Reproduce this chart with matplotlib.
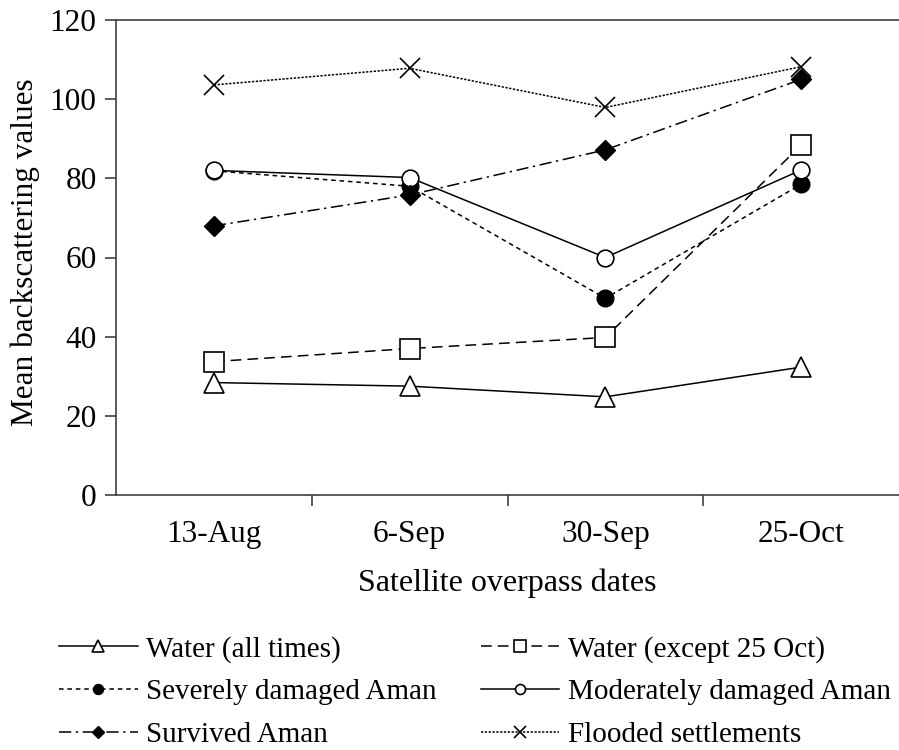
import matplotlib
matplotlib.use('Agg')
import matplotlib.pyplot as plt

plt.rcParams['font.family'] = ['Liberation Serif', 'DejaVu Serif']

# Data
dates = ['13-Aug', '6-Sep', '30-Sep', '25-Oct']
water_all = [28.4, 27.5, 24.8, 32.3]
water_except = [33.7, 37.0, 39.8, 88.4]
severely = [81.9, 78.0, 49.7, 78.5]
moderately = [82.0, 80.2, 60.0, 82.1]
survived = [68.0, 75.8, 87.2, 105.0]
flooded = [103.6, 107.8, 97.9, 108.2]
y_ticks = [0, 20, 40, 60, 80, 100, 120]

fig = plt.figure(figsize=(8.99, 7.5), dpi=100)
ax = fig.add_axes([116 / 899, 1 - 495 / 750, 1 - 116 / 899, 475 / 750])

x = range(len(dates))
ms = 12
lw = 1.1
ax.plot(x, water_all, color='black', lw=lw, ls='-', marker='^', ms=ms + 2,
        mfc='white', mec='black', mew=1.2, label='Water (all times)')
ax.plot(x, water_except, color='black', lw=lw, ls=(0, (7, 4)), marker='s',
        ms=ms + 2, mfc='white', mec='black', mew=1.2,
        label='Water (except 25 Oct)')
ax.plot(x, severely, color='black', lw=lw, ls=(0, (3, 2.5)), marker='o',
        ms=ms, mfc='black', mec='black', label='Severely damaged Aman')
ax.plot(x, moderately, color='black', lw=lw, ls='-', marker='o', ms=ms,
        mfc='white', mec='black', mew=1.2, label='Moderately damaged Aman')
ax.plot(x, survived, color='black', lw=lw, ls=(0, (8, 3, 1.5, 3)),
        marker='D', ms=ms - 2, mfc='black', mec='black', label='Survived Aman')
ax.plot(x, flooded, color='black', lw=lw, ls=(0, (1.5, 1)), marker='x',
        ms=ms + 2, mec='black', mew=1.2, label='Flooded settlements')

ax.set_xlim(-0.5, 3.5)
ax.set_ylim(0, 120)
ax.set_yticks(y_ticks)
ax.set_xticks(list(x))
ax.set_xticklabels(dates)
ax.set_xticks([0.5, 1.5, 2.5], minor=True)
ax.tick_params(axis='x', which='major', length=0, pad=18, labelsize=22.5)
ax.tick_params(axis='x', which='minor', length=8, width=1.2,
               color='#404040', direction='out')
ax.tick_params(axis='y', length=8, width=1.2, color='#404040',
               direction='out', pad=6, labelsize=22.5)
for side in ['left', 'bottom', 'top']:
    ax.spines[side].set_color('#404040')
    ax.spines[side].set_linewidth(1.2)
ax.spines['right'].set_visible(False)

ax.set_xlabel('Satellite overpass dates', fontsize=23)
ax.xaxis.set_label_coords(0.5, -(583 - 495) / 475, transform=ax.transAxes)
ax.xaxis.label.set_va('center')
ax.set_ylabel('Mean backscattering values', fontsize=22.5)
ax.yaxis.set_label_coords(-(116 - 25) / 783, 0.5 + 5 / 475,
                          transform=ax.transAxes)
ax.yaxis.label.set_va('center')

# legend filled row by row, as in the reference
handles, labels = ax.get_legend_handles_labels()
order = [0, 2, 4, 1, 3, 5]
fig.legend([handles[i] for i in order], [labels[i] for i in order],
           loc='center', bbox_to_anchor=(475 / 899, 1 - 692 / 750),
           ncol=2, frameon=False, fontsize=21, handlelength=2.7,
           handletextpad=0.3, columnspacing=1.5, labelspacing=0.55,
           markerscale=0.6, borderpad=0)

fig.savefig('out.png', dpi=100)
